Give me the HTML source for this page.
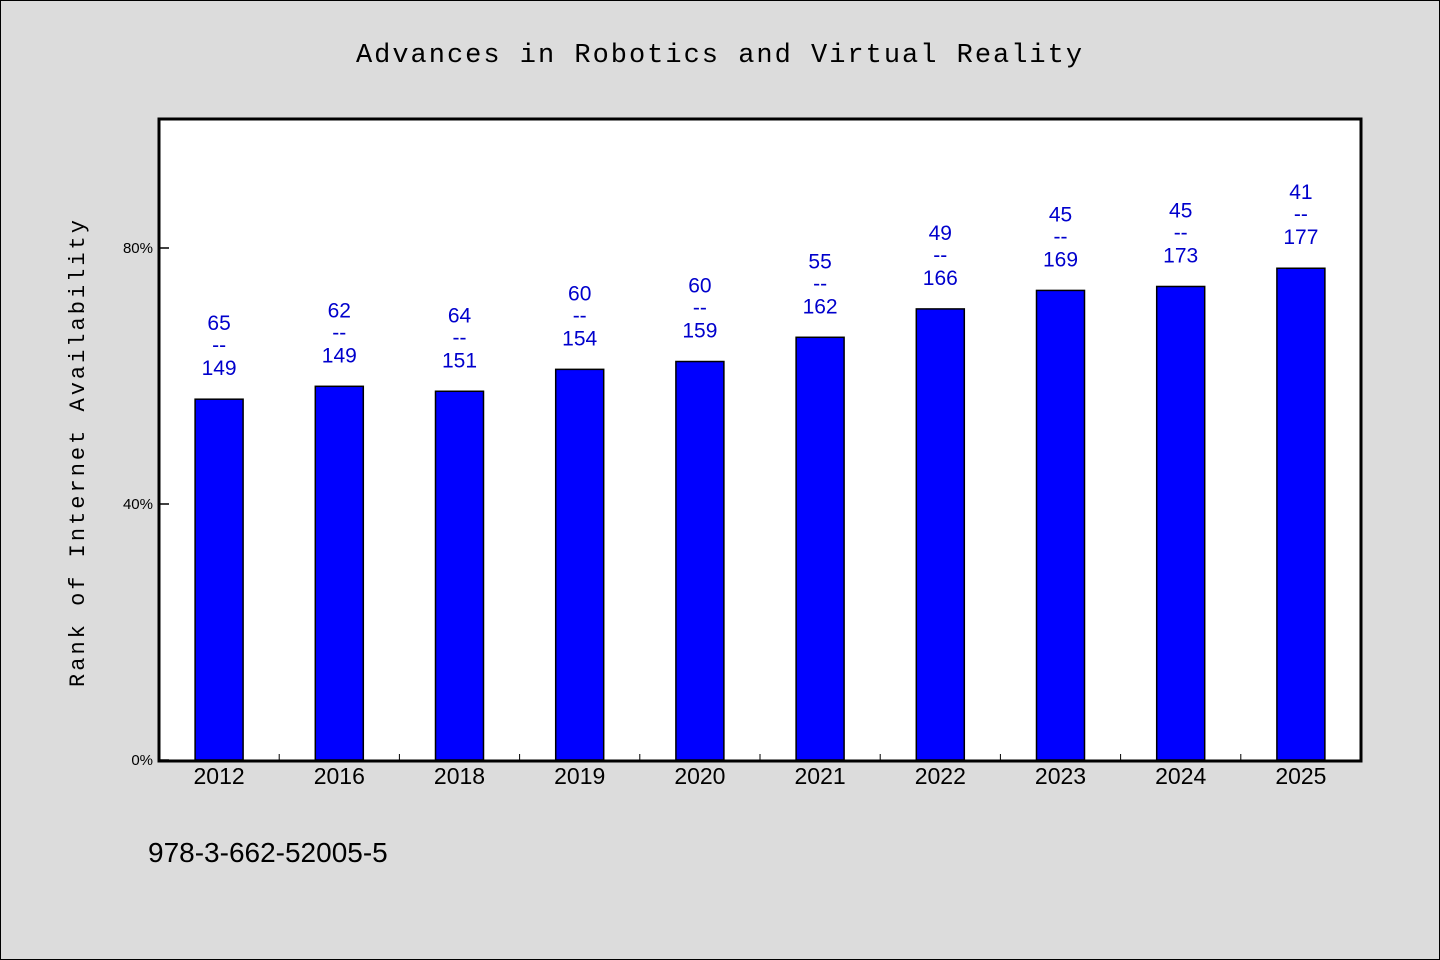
<!DOCTYPE html>
<html><head><meta charset="utf-8"><style>
body{margin:0;background:#dcdcdc;}
svg{display:block;font-family:"Liberation Sans","WenQuanYi Zen Hei",sans-serif;}
</style></head><body>
<svg id="c" width="1440" height="960">
<rect x="0.5" y="0.5" width="1439" height="959" fill="#dcdcdc" stroke="#000"/>
<text x="720" y="62" text-anchor="middle" font-size="27" letter-spacing="2" font-family="'Liberation Mono',monospace">Advances in Robotics and Virtual Reality</text>
<rect x="159" y="119" width="1202" height="642" fill="#fff"/>
<text transform="translate(84,452) rotate(-90)" text-anchor="middle" font-size="22" letter-spacing="3" font-family="'Liberation Mono',monospace">Rank of Internet Availability</text>
<text x="148" y="862" font-size="28">978-3-662-52005-5</text>
<g id="g"></g>
<rect x="159" y="119" width="1202" height="642" fill="none" stroke="#000" stroke-width="3"/>
</svg>
<script>
const categories=["2012","2016","2018","2019","2020","2021","2022","2023","2024","2025"];
const ranks=[65,62,64,60,60,55,49,45,45,41];
const totals=[149,149,151,154,159,162,166,169,173,177];
const yTicks=[0,40,80];
const NS="http://www.w3.org/2000/svg";
const g=document.getElementById('g');
const X0=159,W=1202,Y0=760,PX=6.4;
const band=W/categories.length;
function y(v){return Y0-v*PX;}
function xc(i){return X0+band*(i+0.5);}
function mk(t,a,p){const e=document.createElementNS(NS,t);for(const k in a)e.setAttribute(k,a[k]);(p||g).appendChild(e);return e;}
yTicks.forEach(t=>{
 const l=mk('line',{x1:X0,x2:X0+10,y1:y(t),y2:y(t),stroke:'#000','stroke-width':1.5});
 
 
 const tx=mk('text',{x:X0-6,y:y(t)+5,'text-anchor':'end','font-size':15});
 tx.textContent=t+'%';
 
 
});
categories.forEach((c,i)=>{
 if(i>0){const l=mk('line',{x1:X0+band*i,x2:X0+band*i,y1:Y0,y2:Y0-6,stroke:'#000','stroke-width':1});
 
 }
 const v=(1-ranks[i]/totals[i])*100;
 const b=mk('rect',{x:xc(i)-24,y:y(v),width:48,height:Y0-y(v),fill:'#0000ff',stroke:'#000','stroke-width':1.5});
 
 
 const lb=mk('text',{x:xc(i),y:Y0+24,'text-anchor':'middle','font-size':23});
 lb.textContent=c;
 
 
 const top=y(v);
 const lines=[String(ranks[i]),'--',String(totals[i])];
 const offs=[-69,-47,-24];
 lines.forEach((s,k)=>{
  const t=mk('text',{x:xc(i),y:top+offs[k],'text-anchor':'middle','font-size':21,fill:'#0000cc'});
  t.textContent=s;
  
  
 });
});
</script>
</body></html>
